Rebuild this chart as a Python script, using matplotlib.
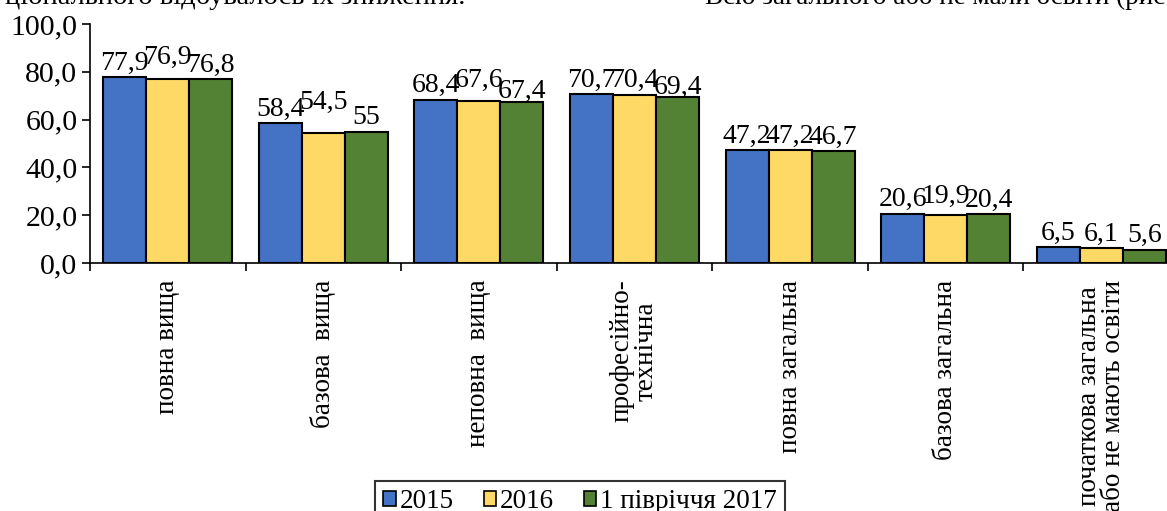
import matplotlib
matplotlib.use("Agg")
import matplotlib.pyplot as plt
from matplotlib.patches import Patch
import numpy as np

plt.rcParams['font.family'] = ['Liberation Serif', 'DejaVu Serif']

categories = ["повна вища", "базова  вища", "неповна  вища", "професійно-\nтехнічна",
              "повна загальна", "базова загальна", "початкова загальна\nабо не мають освіти"]
series_names = ["2015", "2016", "1 півріччя 2017"]
v2015 = [77.9, 58.4, 68.4, 70.7, 47.2, 20.6, 6.5]
v2016 = [76.9, 54.5, 67.6, 70.4, 47.2, 19.9, 6.1]
v2017 = [76.8, 55.0, 67.4, 69.4, 46.7, 20.4, 5.6]
label2015 = ["77,9", "58,4", "68,4", "70,7", "47,2", "20,6", "6,5"]
label2016 = ["76,9", "54,5", "67,6", "70,4", "47,2", "19,9", "6,1"]
label2017 = ["76,8", "55", "67,4", "69,4", "46,7", "20,4", "5,6"]
yticks = [0, 20, 40, 60, 80, 100]
ytick_labels = ["0,0", "20,0", "40,0", "60,0", "80,0", "100,0"]
colors = ["#4472C4", "#FFD966", "#548235"]

# extra vertical shift (points) of data labels, mimicking the reference's label placement
shift2015 = [0, 0, 0, 0, 0, 0, 0]
shift2016 = [5.5, 12, 5, 0, 0, 4, 0]
shift2017 = [0, 0, -2.5, -3, 0, 0, 0]

W, H = 1167, 511
fig = plt.figure(figsize=(W / 100, H / 100), dpi=100)
left, right, bottom, top = 90, 1179, 263, 24
ax = fig.add_axes([left / W, 1 - bottom / H, (right - left) / W, (bottom - top) / H])

x = np.arange(len(categories))
bw = 0.2765
fs = 19.5
fs_num = 20
for i, (vals, labs, sh) in enumerate(zip([v2015, v2016, v2017],
                                         [label2015, label2016, label2017],
                                         [shift2015, shift2016, shift2017])):
    pos = x + (i - 1) * bw
    ax.bar(pos, vals, width=bw, color=colors[i], edgecolor="black", linewidth=1.5,
           label=series_names[i], zorder=3)
    for p, v, l, s in zip(pos, vals, labs, sh):
        ax.annotate(l, (p, v), xytext=(0, 1 + s), textcoords="offset points",
                    ha="center", va="bottom", fontsize=fs_num)

ax.set_xlim(-0.5, len(categories) - 0.5)
ax.set_ylim(0, 100)
ax.set_yticks(yticks)
ax.set_yticklabels(ytick_labels, fontsize=21.5)
ax.tick_params(axis="y", direction="out", length=6, width=1.2, pad=3)

ax.set_xticks(x)
ax.set_xticklabels(categories, rotation=90, fontsize=fs, va="top", ha="center",
                   multialignment="center", linespacing=0.95)
ax.tick_params(axis="x", which="major", length=0, pad=12)
ax.set_xticks(np.arange(-0.5, len(categories) + 0.5, 1), minor=True)
ax.tick_params(axis="x", which="minor", direction="out", length=6, width=1.2)

for s in ["top", "right"]:
    ax.spines[s].set_visible(False)
ax.spines["left"].set_linewidth(1.2)
ax.spines["bottom"].set_linewidth(1.2)

handles = [Patch(facecolor=c, edgecolor="black", linewidth=1.2) for c in colors]
leg = fig.legend(handles, series_names, loc="upper center", ncol=3,
                 bbox_to_anchor=(580 / W, 1 - 481 / H), fontsize=fs, frameon=True,
                 fancybox=False, edgecolor="black", handlelength=0.45, handleheight=0.45,
                 handletextpad=0.15, columnspacing=1.1, borderpad=0.3, borderaxespad=0)
leg.get_frame().set_linewidth(1.5)

# Page text partially cut off at the top of the screenshot
fig.text(5 / W, 1 - 4 / H, "ціонального відбувалось їх зниження.", fontsize=fs + 1,
         ha="left", va="baseline")
fig.text(705 / W, 1 - 4 / H, "Всю загального або не мали освіти (рис. 1", fontsize=fs,
         ha="left", va="baseline")

fig.savefig("out.png", dpi=100)
